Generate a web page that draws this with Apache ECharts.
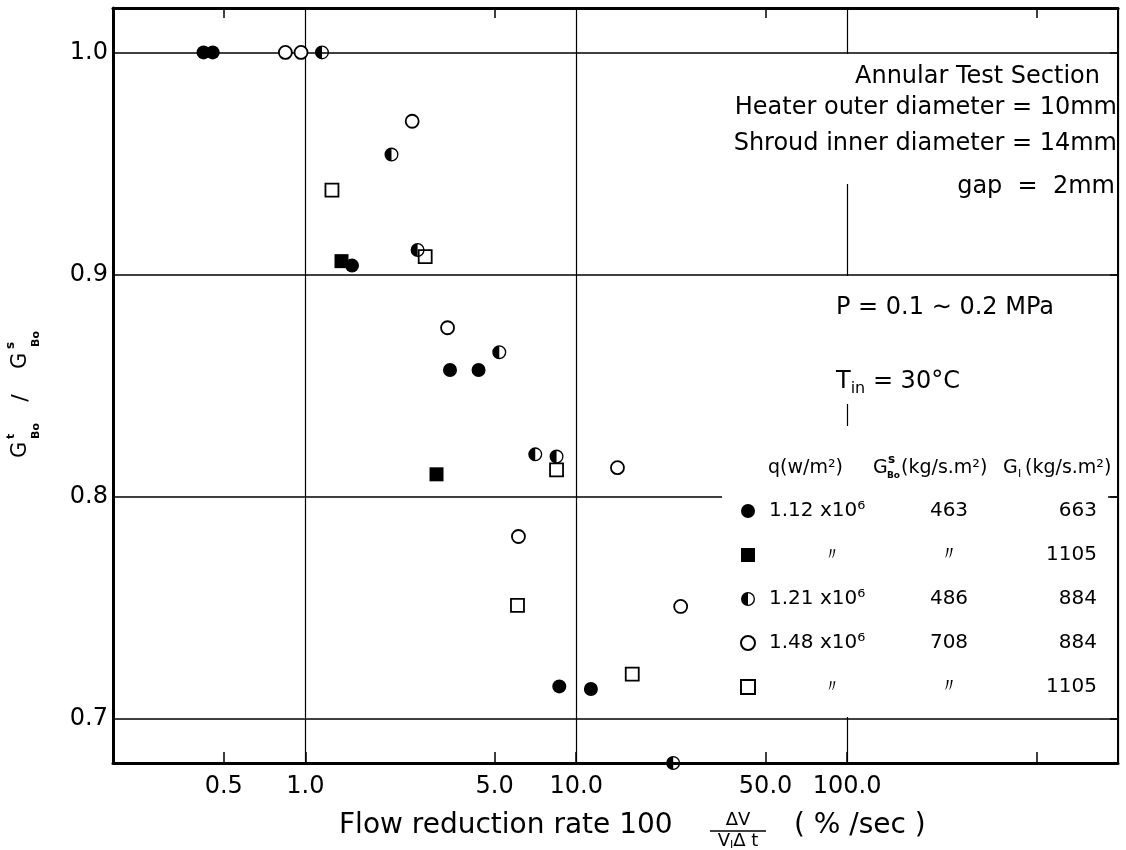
<!DOCTYPE html>
<html><head><meta charset="utf-8">
<script src="https://cdn.jsdelivr.net/npm/echarts@6/dist/echarts.min.js"></script>
<style>html,body{margin:0;padding:0;background:#fff}#c{width:1126px;height:850px}</style>
</head><body><div id="c"></div>
<script>
// ---- data ----
const xLabelValues = [0.5, 1, 5, 10, 50, 100];
const xTickValues = [0.5, 1, 5, 10, 50, 100, 500];
const xTopTickValues = [0.5, 5, 50, 500];
const yTickValues = [0.7, 0.8, 0.9, 1.0];

const seriesNames = ['q=1.12e6 GI=663', 'q=1.12e6 GI=1105', 'q=1.21e6 GI=884', 'q=1.48e6 GI=884', 'q=1.48e6 GI=1105'];
const qLabels = ['1.12 x10⁶', '〃', '1.21 x10⁶', '1.48 x10⁶', '〃'];
const gBoLabels = ['463', '〃', '486', '708', '〃'];
const gILabels = ['663', '1105', '884', '884', '1105'];

const filledCircle = [[0.421, 1.0], [0.455, 1.0], [1.487, 0.904], [3.42, 0.857], [4.36, 0.857], [8.66, 0.7145], [11.33, 0.7133]];
const filledSquare = [[1.36, 0.906], [3.05, 0.810]];
const halfCircle = [[1.152, 1.0], [2.08, 0.954], [2.597, 0.911], [5.2, 0.865], [7.06, 0.819], [8.46, 0.818], [22.8, 0.68]];
const openCircle = [[0.844, 1.0], [0.964, 1.0], [2.48, 0.969], [3.35, 0.876], [6.12, 0.782], [14.2, 0.813], [24.3, 0.7505]];
const openSquare = [[1.254, 0.938], [2.77, 0.908], [6.07, 0.751], [8.46, 0.812], [16.1, 0.720]];

// ---- styling ----
const FF = '"DejaVu Sans", "Noto Sans", sans-serif';
const HALF = 'path://M10 0 A10 10 0 1 1 10 20 A10 10 0 1 1 10 0 Z M10 1.9 L10 18.1 A8.1 8.1 0 0 0 10 1.9 Z';
const openStyle = { color: '#fff', borderColor: '#000', borderWidth: 1.8, opacity: 1 };
const fillStyle = { color: '#000', opacity: 1 };

function txt(x, y, text, size, align, extra) {
  return Object.assign({
    type: 'text', z: 10, x: x, y: y,
    style: { text: text, fontSize: size, fontFamily: FF, fill: '#000', align: align || 'left', verticalAlign: 'middle' }
  }, extra || {});
}

const chart = echarts.init(document.getElementById('c'), null, { renderer: 'canvas' });
const xMin = 0.195, xMax = 1000, yMin = 0.68, yMax = 1.02;

const option = {
  animation: false,
  backgroundColor: '#fff',
  grid: { left: 113, right: 8, top: 8, bottom: 87 },
  xAxis: [
    {
      type: 'log', logBase: 10, min: xMin, max: xMax, position: 'bottom',
      axisLine: { show: true, onZero: false, lineStyle: { color: '#000', width: 3 } },
      axisTick: { show: true, inside: true, length: 11, customValues: xTickValues, lineStyle: { color: '#000', width: 1.5 } },
      axisLabel: { customValues: xLabelValues, formatter: v => Number(v).toFixed(1), color: '#000', fontSize: 24, fontFamily: FF, margin: 12 },
      splitLine: { show: false }
    },
    {
      type: 'log', logBase: 10, min: xMin, max: xMax, position: 'top',
      axisLine: { show: true, onZero: false, lineStyle: { color: '#000', width: 3 } },
      axisTick: { show: true, inside: true, length: 10, customValues: xTopTickValues, lineStyle: { color: '#000', width: 1.5 } },
      axisLabel: { show: false },
      splitLine: { show: false }
    },
    {
      type: 'log', logBase: 10, min: xMin, max: xMax, position: 'bottom',
      axisLine: { show: false }, axisTick: { show: false }, axisLabel: { show: false },
      splitLine: { show: true, lineStyle: { color: '#000', width: 1.2 } }
    }
  ],
  yAxis: [
    {
      type: 'value', min: yMin, max: yMax, position: 'left',
      axisLine: { show: true, onZero: false, lineStyle: { color: '#000', width: 3 } },
      axisTick: { show: false, customValues: yTickValues },
      axisLabel: { customValues: yTickValues, formatter: v => Number(v).toFixed(1), color: '#000', fontSize: 24, fontFamily: FF, margin: 5 },
      splitLine: { show: true, lineStyle: { color: '#000', width: 1.6 } }
    },
    {
      type: 'value', min: yMin, max: yMax, position: 'right',
      axisLine: { show: true, onZero: false, lineStyle: { color: '#000', width: 2 } },
      axisTick: { show: true, inside: true, length: 8, customValues: yTickValues, lineStyle: { color: '#000', width: 1.5 } },
      axisLabel: { show: false },
      splitLine: { show: false }
    }
  ],
  legend: {
    orient: 'vertical', left: 735, top: 496,
    itemWidth: 14, itemHeight: 14, itemGap: 24,
    selectedMode: false,
    data: seriesNames,
    formatter: function (name) {
      const i = seriesNames.indexOf(name);
      const a = qLabels[i] === '〃' ? 'ad' : 'a';
      return '{p| }{' + a + '|' + qLabels[i] + '}{b|' + gBoLabels[i] + '}{c|' + gILabels[i] + '}';
    },
    textStyle: {
      color: '#000', fontFamily: FF, fontSize: 20,
      rich: {
        p: { width: 9, fontSize: 20, fontFamily: FF, lineHeight: 20 },
        a: { width: 126, align: 'left', fontSize: 20, fontFamily: FF, lineHeight: 20 },
        ad: { width: 126, align: 'center', fontSize: 18, fontFamily: FF, lineHeight: 20 },
        b: { width: 108, align: 'center', fontSize: 20, fontFamily: FF, lineHeight: 20 },
        c: { width: 94, align: 'right', fontSize: 20, fontFamily: FF, lineHeight: 20 }
      }
    }
  },
  series: [
    { type: 'scatter', name: seriesNames[0], data: filledCircle, symbol: 'circle', symbolSize: 14, itemStyle: fillStyle, clip: false, z: 3 },
    { type: 'scatter', name: seriesNames[1], data: filledSquare, symbol: 'rect', symbolSize: 14, itemStyle: fillStyle, clip: false, z: 3 },
    { type: 'scatter', name: seriesNames[2], data: halfCircle, symbol: HALF, symbolSize: 14, itemStyle: fillStyle, clip: false, z: 4 },
    { type: 'scatter', name: seriesNames[3], data: openCircle, symbol: 'circle', symbolSize: 13, itemStyle: openStyle, clip: false, z: 3 },
    { type: 'scatter', name: seriesNames[4], data: openSquare, symbol: 'rect', symbolSize: 13, itemStyle: openStyle, clip: false, z: 3 }
  ],
  graphic: {
    elements: [
      // white boxes behind the annotation blocks
      { type: 'rect', z: 1, shape: { x: 838, y: 54, width: 20, height: 130 }, style: { fill: '#fff' } },
      { type: 'rect', z: 1, shape: { x: 838, y: 276, width: 20, height: 128 }, style: { fill: '#fff' } },
      { type: 'rect', z: 1, shape: { x: 722, y: 426, width: 386, height: 291 }, style: { fill: '#fff' } },

      // annotation text
      txt(1100, 77, 'Annular Test Section', 24, 'right'),
      txt(1117, 108, 'Heater outer diameter = 10mm', 24, 'right'),
      txt(1117, 144, 'Shroud inner diameter = 14mm', 24, 'right'),
      txt(1115, 187, 'gap  =  2mm', 24, 'right'),
      txt(836, 308, 'P = 0.1 ∼ 0.2 MPa', 24, 'left'),
      {
        type: 'text', z: 10, x: 836, y: 382,
        style: {
          text: '{a|T}{s|in}{a| = 30°C}', fill: '#000', align: 'left', verticalAlign: 'middle',
          fontSize: 24, fontFamily: FF,
          rich: {
            a: { fontSize: 24, fontFamily: FF, lineHeight: 30 },
            s: { fontSize: 16, fontFamily: FF, lineHeight: 16, verticalAlign: 'bottom' }
          }
        }
      },

      // legend header
      txt(768, 468, 'q(w/m²)', 19, 'left'),
      txt(873, 468, 'G', 19, 'left'),
      txt(888, 460, 's', 12, 'left', { style: { text: 's', fontSize: 12, fontWeight: 'bold', fontFamily: FF, fill: '#000', align: 'left', verticalAlign: 'middle' } }),
      txt(887, 476, 'Bo', 9, 'left', { style: { text: 'Bo', fontSize: 9, fontWeight: 'bold', fontFamily: FF, fill: '#000', align: 'left', verticalAlign: 'middle' } }),
      txt(901, 468, '(kg/s.m²)', 19, 'left'),
      txt(1003, 468, 'G', 19, 'left'),
      txt(1018, 474, 'I', 11, 'left'),
      txt(1025, 468, '(kg/s.m²)', 19, 'left'),

      // y axis title (rotated)
      {
        type: 'group', x: 21, y: 392, rotation: Math.PI / 2,
        children: [
          { type: 'text', z: 10, x: -66, y: 0, style: { text: 'G', fontSize: 21, fontFamily: FF, fill: '#000', align: 'left', verticalAlign: 'middle' } },
          { type: 'text', z: 10, x: -47, y: -10, style: { text: 't', fontSize: 11, fontWeight: 'bold', fontFamily: FF, fill: '#000', align: 'left', verticalAlign: 'middle' } },
          { type: 'text', z: 10, x: -47, y: 15, style: { text: 'Bo', fontSize: 11, fontWeight: 'bold', fontFamily: FF, fill: '#000', align: 'left', verticalAlign: 'middle' } },
          { type: 'text', z: 10, x: -6, y: 0, style: { text: '/', fontSize: 22, fontFamily: FF, fill: '#000', align: 'center', verticalAlign: 'middle' } },
          { type: 'text', z: 10, x: 23, y: 0, style: { text: 'G', fontSize: 21, fontFamily: FF, fill: '#000', align: 'left', verticalAlign: 'middle' } },
          { type: 'text', z: 10, x: 43, y: -10, style: { text: 's', fontSize: 12, fontWeight: 'bold', fontFamily: FF, fill: '#000', align: 'left', verticalAlign: 'middle' } },
          { type: 'text', z: 10, x: 45, y: 15, style: { text: 'Bo', fontSize: 11, fontWeight: 'bold', fontFamily: FF, fill: '#000', align: 'left', verticalAlign: 'middle' } }
        ]
      },

      // x axis title
      txt(339, 826, 'Flow reduction rate 100', 28, 'left'),
      txt(738, 820, 'ΔV', 18, 'center'),
      { type: 'line', z: 10, shape: { x1: 710, y1: 831, x2: 766, y2: 831 }, style: { stroke: '#000', lineWidth: 1.5 } },
      {
        type: 'text', z: 10, x: 738, y: 841,
        style: {
          text: '{a|V}{s|I}{a|Δ t}', fill: '#000', align: 'center', verticalAlign: 'middle',
          fontSize: 18, fontFamily: FF,
          rich: {
            a: { fontSize: 18, fontFamily: FF, lineHeight: 19 },
            s: { fontSize: 11, fontFamily: FF, lineHeight: 11, verticalAlign: 'bottom' }
          }
        }
      },
      txt(794, 826, '( % /sec )', 28, 'left')
    ]
  }
};
chart.setOption(option);
</script>
</body></html>
